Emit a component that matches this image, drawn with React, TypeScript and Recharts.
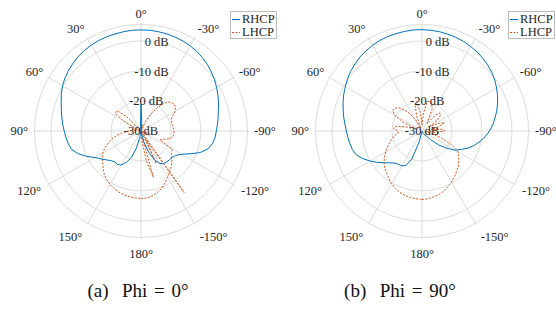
import React from 'react';
import { RadarChart, Radar, PolarGrid, PolarAngleAxis, PolarRadiusAxis } from 'recharts';

// theta in degrees, 0 = boresight (top), positive counter-clockwise
const thetas = [
  -180, -175, -170, -165, -160, -155, -150, -145, -140, -135, -130, -125,
  -120, -115, -110, -105, -100, -95, -90, -85, -80, -75, -70, -65,
  -60, -55, -50, -45, -40, -35, -30, -25, -20, -15, -10, -5,
  0, 5, 10, 15, 20, 25, 30, 35, 40, 45, 50, 55,
  60, 65, 70, 75, 80, 85, 90, 95, 100, 105, 110, 115,
  120, 125, 130, 135, 140, 145, 150, 155, 160, 165, 170, 175,
];

// (a) Phi = 0 deg, gain in dB
const rhcpPhi0 = [
  -39, -32, -29, -26, -22.5, -19.5, -17.5, -16.8, -16.6, -16.5, -16.4, -15.8,
  -14.5, -12, -9, -6.9, -5.8, -5.2, -4.9, -4.4, -3.9, -3.3, -2.5, -1.7,
  -0.9, -0.1, 0.6, 1.3, 1.9, 2.4, 2.8, 3.1, 3.3, 3.5, 3.6, 3.7,
  3.7, 3.7, 3.6, 3.5, 3.4, 3.3, 3.1, 2.8, 2.5, 2.0, 1.5, 0.9,
  0.2, -0.7, -1.7, -2.5, -3.2, -3.8, -4.4, -4.9, -5.4, -6.1, -7.8, -10,
  -12.3, -13.8, -15, -16, -16.5, -16.3, -17, -18.5, -20.5, -24, -28, -33,
];
const lhcpPhi0 = [
  -7.5, -7.6, -8, -8.8, -9.7, -11, -12.3, -13.4, -14.4, -15.4, -16.8, -17.5,
  -18, -23, -22, -20, -19.2, -19, -19, -19.2, -19.3, -19.4, -19.3, -18.5,
  -16.8, -16, -15.8, -16.3, -17.8, -20.5, -23.5, -26.5, -29, -28, -29.5, -31,
  -28, -33, -40, -46, -29, -42, -33, -55, -30, -23, -19.5, -19.5,
  -23, -28, -33, -29, -27, -28, -26, -24, -22, -20, -18.5, -16.8,
  -15.2, -14.2, -13.4, -12.2, -11, -10.1, -9.4, -8.8, -8.3, -8, -7.8, -7.6,
];

// (b) Phi = 90 deg, gain in dB
const rhcpPhi90 = [
  -30, -30, -30, -29.8, -29.5, -29.2, -29, -28.5, -28, -26, -22.8, -20,
  -17.2, -15.5, -13.5, -11.8, -10.3, -8.8, -7.5, -6.3, -5.3, -4.2, -3.2, -2.2,
  -1.3, -0.4, 0.4, 1.0, 1.6, 2.1, 2.5, 2.9, 3.2, 3.4, 3.6, 3.7,
  3.8, 3.8, 3.7, 3.6, 3.5, 3.3, 3.0, 2.6, 2.2, 1.6, 1.0, 0.3,
  -0.5, -1.2, -2.0, -2.8, -3.5, -4.2, -4.8, -5.2, -5.6, -6.0, -6.7, -8.2,
  -10, -11.8, -13.5, -15, -16, -16.4, -16.6, -17.3, -20, -26, -29.5, -30,
];
const lhcpPhi90 = [
  -7.2, -7.3, -7.7, -8.1, -8.7, -9.5, -10.3, -11.2, -12.2, -13, -14, -15,
  -16.2, -19, -23, -27, -29, -25, -22.5, -23, -27, -24, -22, -24,
  -27, -24, -22, -21.5, -23, -27, -26, -22, -20.5, -19.8, -20, -24,
  -28, -24, -19.8, -21, -25, -29, -26, -23, -21, -19, -18.2, -18,
  -19.5, -23, -28, -25, -21, -20.5, -22, -22, -20.5, -19.5, -18.5, -17.3,
  -16, -14.7, -13.5, -12.5, -11.7, -10.7, -9.7, -8.9, -8.3, -7.8, -7.5, -7.3,
];

const angleTicks = [-150, -120, -90, -60, -30, 0, 30, 60, 90, 120, 150, 180];
const radiusTicks = [-30, -20, -10, 0, 5.5];

const FONT = '"Liberation Serif", "Times New Roman", serif';
const TEXT = '#262626';
const BLUE = '#0072BD';
const ORANGE = '#D95319';

const textStyle: React.CSSProperties = { fontFamily: FONT, fill: TEXT };

const AngleTick = (props: any) => {
  const { x, y, payload } = props;
  const v = Number(payload.value);
  const rad = (v * Math.PI) / 180;
  const ux = -Math.sin(rad);
  const uy = -Math.cos(rad);
  const gap = 5 + (uy > 0 ? 5 * uy : 0);
  const ax = x + ux * (gap - 8);
  const ay = y + uy * (gap - 8) + uy * 4.5;
  const anchor = ux > 0.01 ? 'start' : ux < -0.01 ? 'end' : 'middle';
  return (
    <text x={ax} y={ay} textAnchor={anchor} dominantBaseline="central" fontSize={12.5} style={textStyle}>
      {`${v}°`}
    </text>
  );
};

const RadiusTick = (props: any) => {
  const { x, y, payload } = props;
  if (payload.value > 0) return <g />;
  return (
    <text x={x} y={y} textAnchor="middle" dominantBaseline="central" fontSize={12.5} style={textStyle}>
      {`${payload.value} dB`}
    </text>
  );
};

function Panel({ rhcp, lhcp, cx }: { rhcp: number[]; lhcp: number[]; cx: number }) {
  const data = thetas.map((t, i) => ({ theta: t, RHCP: rhcp[i], LHCP: lhcp[i] }));
  return (
    <RadarChart
      width={278}
      height={262}
      data={data}
      cx={cx}
      cy={131}
      outerRadius={108}
      startAngle={-90}
      endAngle={270}
      margin={{ top: 0, right: 0, bottom: 0, left: 0 }}
      style={{ fontFamily: FONT }}
    >
      <PolarGrid gridType="circle" stroke="#dcdcdc" />
      <PolarAngleAxis
        dataKey="theta"
        type="number"
        domain={[-180, 180]}
        ticks={angleTicks}
        tick={AngleTick}
        tickLine={false}
        axisLine={false}
      />
      <PolarRadiusAxis
        angle={80}
        type="number"
        domain={[-30, 5.5]}
        ticks={radiusTicks}
        allowDataOverflow
        tick={RadiusTick}
        tickLine={false}
        axisLine={false}
      />
      <Radar dataKey="LHCP" stroke={ORANGE} strokeWidth={1} strokeDasharray="2 1.5" fill="none" dot={false} isAnimationActive={false} />
      <Radar dataKey="RHCP" stroke={BLUE} strokeWidth={1} fill="none" dot={false} isAnimationActive={false} />
    </RadarChart>
  );
}

function LegendBox({ left }: { left: number }) {
  const row = (name: string, color: string, dash?: string) => (
    <div style={{ display: 'flex', alignItems: 'center', height: 13 }}>
      <svg width={9} height={13}>
        <line x1={0} y1={6.5} x2={8} y2={6.5} stroke={color} strokeWidth={1} strokeDasharray={dash} />
      </svg>
      <span style={{ marginLeft: 1 }}>{name}</span>
    </div>
  );
  return (
    <div
      style={{
        position: 'absolute',
        left,
        top: 11,
        width: 47,
        height: 28,
        border: '1px solid #bdbdbd',
        background: '#fff',
        fontFamily: FONT,
        fontSize: 12.5,
        color: TEXT,
        lineHeight: '13px',
        padding: '1px 0 0 1px',
        boxSizing: 'border-box',
      }}
    >
      {row('RHCP', BLUE)}
      {row('LHCP', ORANGE, '2 1.5')}
    </div>
  );
}

const captionStyle: React.CSSProperties = {
  position: 'absolute',
  top: 280,
  width: 200,
  textAlign: 'center',
  fontFamily: FONT,
  fontSize: 19,
  color: '#111',
  whiteSpace: 'pre',
  wordSpacing: 2,
};

export default function App() {
  return (
    <div style={{ position: 'absolute', left: 0, top: 0, width: 556, height: 322, background: '#fff' }}>
      <div style={{ position: 'absolute', left: 0, top: 0 }}>
        <Panel rhcp={rhcpPhi0} lhcp={lhcpPhi0} cx={141} />
      </div>
      <div style={{ position: 'absolute', left: 278, top: 0 }}>
        <Panel rhcp={rhcpPhi90} lhcp={lhcpPhi90} cx={144} />
      </div>
      <LegendBox left={230} />
      <LegendBox left={508} />
      <div style={{ ...captionStyle, left: 38 }}>{'(a)  Phi = 0°'}</div>
      <div style={{ ...captionStyle, left: 300 }}>{'(b)  Phi = 90°'}</div>
    </div>
  );
}
